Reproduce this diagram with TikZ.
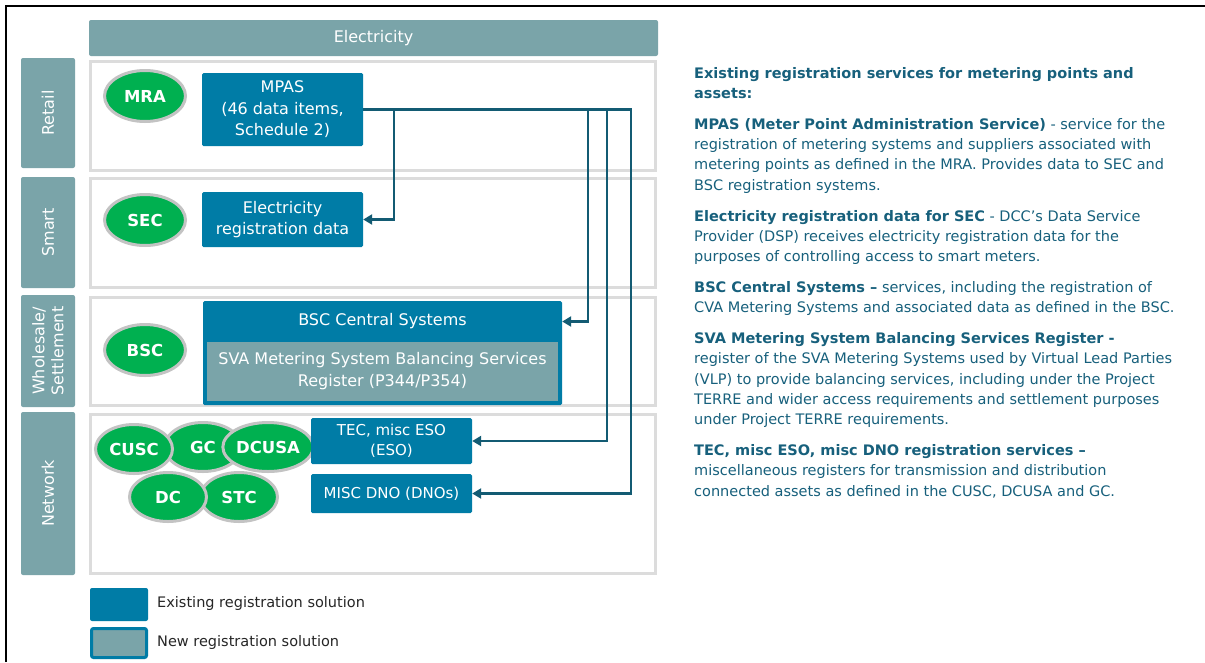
\documentclass[tikz,border=0pt]{standalone}
\usepackage{fontspec}
\setmainfont{DejaVu Sans}
\usetikzlibrary{arrows.meta,shapes.geometric}
\definecolor{hdr}{HTML}{7AA4A9}
\definecolor{blu}{HTML}{007CA6}
\definecolor{grn}{HTML}{00B050}
\definecolor{ring}{HTML}{C3C3C3}
\definecolor{rowc}{HTML}{DCDCDC}
\definecolor{conn}{HTML}{135B73}
\definecolor{txt}{HTML}{17607C}
\definecolor{legtxt}{HTML}{262626}
\begin{document}
\begin{tikzpicture}[x=1pt,y=-1pt,
  hdrbox/.style={fill=hdr, draw=none, rounded corners=2pt, text=white, inner sep=0pt, align=center},
  rowbox/.style={draw=rowc, line width=3pt},
  bluebox/.style={fill=blu, draw=none, rounded corners=1.5pt, text=white, align=center, inner sep=0pt},
  oval/.style={ellipse, fill=grn, draw=ring, line width=3pt, text=white, font=\fontsize{16.5}{18}\selectfont\bfseries, inner sep=0pt, minimum width=77pt, minimum height=49pt},
  bigoval/.style={oval, minimum width=81pt, minimum height=51pt},
  trunk/.style={draw=conn, line width=2.8pt},
  link/.style={trunk, -{Triangle[length=9pt,width=10pt]}},
  boxfont/.style={font=\fontsize{16}{21.5}\selectfont},
  smallfont/.style={font=\fontsize{15}{20}\selectfont}
]
\useasboundingbox (0,0) rectangle (1205,662);
\fill[white] (0,0) rectangle (1205,662);
\draw[line width=2pt] (6,662) -- (6,6) -- (1205,6);

% header and side labels
\node[hdrbox, minimum width=569pt, minimum height=36pt, font=\fontsize{16}{18}\selectfont] (elec) at (373.5,38) {Electricity};
\node[hdrbox, rotate=90, minimum width=110pt, minimum height=54pt, font=\fontsize{16}{18}\selectfont] (retail) at (48,113) {Retail};
\node[hdrbox, rotate=90, minimum width=111pt, minimum height=54pt, font=\fontsize{16}{18}\selectfont] (smart) at (48,232.5) {Smart};
\node[hdrbox, rotate=90, minimum width=112pt, minimum height=54pt, font=\fontsize{16}{19}\selectfont] (whole) at (48,351) {Wholesale/\\Settlement};
\node[hdrbox, rotate=90, minimum width=163pt, minimum height=54pt, font=\fontsize{16}{18}\selectfont] (network) at (48,493.5) {Network};

% rows
\draw[rowbox] (90.5,61.5) rectangle (655.5,170.5);
\draw[rowbox] (90.5,178.5) rectangle (655.5,287.5);
\draw[rowbox] (90.5,297.5) rectangle (655.5,405.5);
\draw[rowbox] (90.5,414.5) rectangle (655.5,573.5);

% ovals
\node[bigoval] (mra) at (145,96) {MRA};
\node[bigoval] (sec) at (145,220) {SEC};
\node[bigoval] (bsco) at (145,350) {BSC};
\node[oval] (gc) at (203,447) {GC};
\node[oval] (cusc) at (134,449) {CUSC};
\node[oval] (dcusa) at (268,447) {DCUSA};
\node[oval] (stc) at (239,497) {STC};
\node[oval] (dc) at (168,497) {DC};

% boxes
\node[bluebox, boxfont, minimum width=161pt, minimum height=73pt] (mpas) at (282.5,109.5) {MPAS\\(46 data items,\\Schedule 2)};
\node[bluebox, boxfont, minimum width=161pt, minimum height=55pt] (elecreg) at (282.5,219.5) {Electricity\\registration data};
\node[bluebox, minimum width=359pt, minimum height=104pt] (bsc) at (382.5,353) {};
\node[text=white, inner sep=0pt, boxfont, minimum width=359pt, minimum height=41pt] (bsctop) at (382.5,321.5) {BSC Central Systems};
\node[fill=hdr, text=white, inner sep=0pt, align=center, font=\fontsize{16}{22}\selectfont, minimum width=351pt, minimum height=59pt] (sva) at (382.5,371.5) {SVA Metering System Balancing Services\\Register (P344/P354)};
\node[bluebox, smallfont, minimum width=161pt, minimum height=46pt] (tec) at (391.5,441) {TEC, misc ESO\\(ESO)};
\node[bluebox, smallfont, minimum width=161pt, minimum height=39pt] (misc) at (391.5,493.5) {MISC DNO (DNOs)};

% connectors
\coordinate (j1) at (394,109.5);
\coordinate (j2) at (588,109.5);
\coordinate (j3) at (607,109.5);
\coordinate (j4) at (631,109.5);
\draw[link] (mpas.east) -- (j4) |- (misc.east);
\draw[link] (j1) |- (elecreg.east);
\draw[link] (j2) |- (bsctop.east);
\draw[link] (j3) |- (tec.east);

% legend
\node[bluebox, rounded corners=2pt, minimum width=58pt, minimum height=33pt] (leg1) at (119,604.5) {};
\node[fill=hdr, draw=blu, line width=3pt, rounded corners=2pt, inner sep=0pt, minimum width=55pt, minimum height=29pt] (leg2) at (119,643) {};
\node[anchor=west, inner sep=0pt, text=legtxt, font=\fontsize{14.5}{17}\selectfont] (leg1t) at (157,603) {Existing registration solution};
\node[anchor=west, inner sep=0pt, text=legtxt, font=\fontsize{14.5}{17}\selectfont] (leg2t) at (157,642) {New registration solution};

% description
\node[anchor=north west, inner sep=0pt, align=left, text=txt, font=\fontsize{14.5}{20.3}\selectfont] (desc) at (694,67) {%
\textbf{Existing registration services for metering points and}\\
\textbf{assets:}\\[10.5pt]
\textbf{MPAS (Meter Point Administration Service)} - service for the\\
registration of metering systems and suppliers associated with\\
metering points as defined in the MRA. Provides data to SEC and\\
BSC registration systems.\\[10.5pt]
\textbf{Electricity registration data for SEC} - DCC’s Data Service\\
Provider (DSP) receives electricity registration data for the\\
purposes of controlling access to smart meters.\\[10.5pt]
\textbf{BSC Central Systems –} services, including the registration of\\
CVA Metering Systems and associated data as defined in the BSC.\\[10.5pt]
\textbf{SVA Metering System Balancing Services Register -}\\
register of the SVA Metering Systems used by Virtual Lead Parties\\
(VLP) to provide balancing services, including under the Project\\
TERRE and wider access requirements and settlement purposes\\
under Project TERRE requirements.\\[10.5pt]
\textbf{TEC, misc ESO, misc DNO registration services –}\\
miscellaneous registers for transmission and distribution\\
connected assets as defined in the CUSC, DCUSA and GC.};
\end{tikzpicture}
\end{document}
